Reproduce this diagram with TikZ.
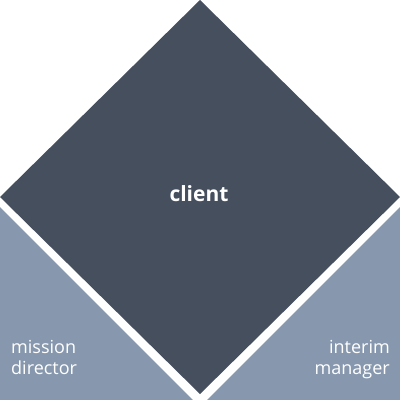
\documentclass[tikz,border=0pt]{standalone}
\usepackage{fontspec}
\setmainfont{Open Sans}
\definecolor{darkslate}{HTML}{454F5E}
\definecolor{lightslate}{HTML}{8798AE}
\begin{document}
\begin{tikzpicture}[x=1pt,y=-1pt,
  lbl/.style={text=white,inner sep=0pt,font=\fontsize{18}{21}\selectfont,align=left},
  lblr/.style={lbl,align=right}]
\useasboundingbox (0,0) rectangle (400,400);
\fill[white] (0,0) rectangle (400,400);
\fill[lightslate] (0,207) -- (193,400) -- (0,400) -- cycle;
\fill[lightslate] (400,207) -- (207,400) -- (400,400) -- cycle;
\fill[darkslate] (200,0) -- (400,197) -- (200,394) -- (0,197) -- cycle;
\node[text=white,font=\fontsize{21}{24}\selectfont\bfseries,inner sep=0pt,anchor=base] (client) at (199,201) {client};
\node[lbl,anchor=base west] (md) at (11,374) {mission\\director};
\node[lblr,anchor=base east] (im) at (390,374) {interim\\manager};
\end{tikzpicture}
\end{document}
